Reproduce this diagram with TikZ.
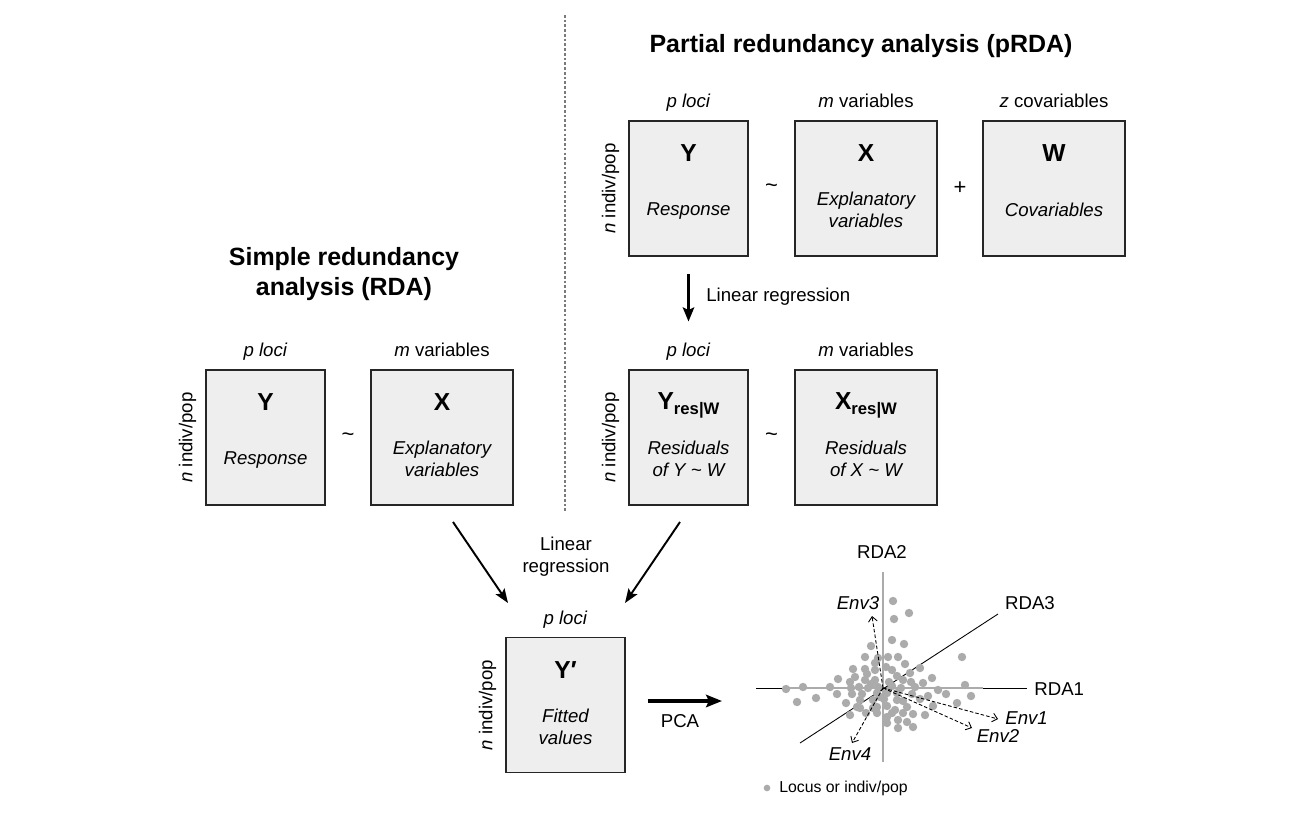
\documentclass[tikz,border=0pt]{standalone}
\usepackage{fontspec}
\setmainfont{Liberation Sans}
\usetikzlibrary{arrows.meta, calc, positioning}

\definecolor{boxgray}{HTML}{EEEEEE}
\definecolor{dotgray}{HTML}{ABABAB}
\definecolor{rulegray}{HTML}{7A7A7A}

\tikzset{
  matbox/.style={draw=black!85, line width=0.6pt, fill=boxgray, minimum width=2.38cm, minimum height=2.7cm, inner sep=0pt},
  widebox/.style={matbox, minimum width=2.84cm},
  letter/.style={font=\fontsize{14}{16}\selectfont\bfseries, inner sep=0pt},
  desc/.style={font=\fontsize{10.6}{12.6}\selectfont\itshape, align=center, inner sep=0pt},
  lbl/.style={font=\fontsize{10.6}{12.6}\selectfont, align=center, inner sep=0pt},
  toplbl/.style={lbl, anchor=base},
  op/.style={font=\fontsize{12.5}{14}\selectfont, inner sep=0pt},
  title/.style={font=\fontsize{14.2}{17.2}\selectfont\bfseries, align=center, inner sep=0pt},
  regarrow/.style={line width=1.1pt, -{Stealth[length=8pt,width=6pt,inset=1.5pt]}},
  bigarrow/.style={line width=1.5pt, -{Stealth[length=8pt,width=6.5pt,inset=1.5pt]}},
  envarrow/.style={line width=0.5pt, dash pattern=on 2pt off 1.2pt, -{Straight Barb[length=2.8pt,width=5pt]}},
}

\begin{document}
\begin{tikzpicture}[x=0.02cm, y=-0.02cm]
  \useasboundingbox (0,0) rectangle (1299,832);

  % divider
  \draw[rulegray, line width=0.8pt, dash pattern=on 1.5pt off 1.2pt] (565,15) -- (565,513);

  % titles
  \node[title] (ptitle) at (861,46) {Partial redundancy analysis (pRDA)};
  \node[title] (stitle) at (344,274) {Simple redundancy\\analysis (RDA)};

  % pRDA, first row
  \node[matbox] (pY) at (688.5,188.5) {};
  \node[widebox] (pX) at (866,188.5) {};
  \node[widebox] (pW) at (1054,188.5) {};
  \node[letter] at ($(pY.north)+(0,33)$) {Y};
  \node[desc] at ($(pY.north)+(0,91)$) {Response};
  \node[letter] at ($(pX.north)+(0,33)$) {X};
  \node[desc] at ($(pX.north)+(0,89)$) {Explanatory\\variables};
  \node[letter] at ($(pW.north)+(0,33)$) {W};
  \node[desc] at ($(pW.north)+(0,89)$) {Covariables};
  \node[toplbl] at ($(pY.north)+(0,-13)$) {\textit{p loci}};
  \node[toplbl] at ($(pX.north)+(0,-13)$) {\textit{m} variables};
  \node[toplbl] at ($(pW.north)+(0,-13)$) {\textit{z} covariables};
  \node[lbl, rotate=90] at ($(pY.west)+(-18,0)$) {\textit{n} indiv/pop};
  \node[op] at ($(pY.east)!0.5!(pX.west)$) {\textasciitilde};
  \node[op] at ($(pX.east)!0.5!(pW.west)$) {+};

  % pRDA, residuals
  \node[matbox] (pYres) at (688.5,437.5) {};
  \node[widebox] (pXres) at (866,437.5) {};
  \node[letter] at ($(pYres.north)+(0,36)$) {Y\raisebox{-2.5pt}{\fontsize{9.5}{10}\selectfont res|W}};
  \node[desc] at ($(pYres.north)+(0,89)$) {Residuals\\of Y \textasciitilde{} W};
  \node[letter] at ($(pXres.north)+(0,36)$) {X\raisebox{-2.5pt}{\fontsize{9.5}{10}\selectfont res|W}};
  \node[desc] at ($(pXres.north)+(0,89)$) {Residuals\\of X \textasciitilde{} W};
  \node[toplbl] at ($(pYres.north)+(0,-13)$) {\textit{p loci}};
  \node[toplbl] at ($(pXres.north)+(0,-13)$) {\textit{m} variables};
  \node[lbl, rotate=90] at ($(pYres.west)+(-18,0)$) {\textit{n} indiv/pop};
  \node[op] at ($(pYres.east)!0.5!(pXres.west)$) {\textasciitilde};

  \draw[bigarrow, shorten <=0.34cm, shorten >=0.96cm] (pY.south) -- (pYres.north);
  \node[lbl, anchor=west] (lreg1) at (706,297) {Linear regression};

  % simple RDA
  \node[matbox] (sY) at (265.5,437.5) {};
  \node[widebox] (sX) at (442,437.5) {};
  \node[letter] at ($(sY.north)+(0,33)$) {Y};
  \node[desc] at ($(sY.north)+(0,91)$) {Response};
  \node[letter] at ($(sX.north)+(0,33)$) {X};
  \node[desc] at ($(sX.north)+(0,89)$) {Explanatory\\variables};
  \node[toplbl] at ($(sY.north)+(0,-13)$) {\textit{p loci}};
  \node[toplbl] at ($(sX.north)+(0,-13)$) {\textit{m} variables};
  \node[lbl, rotate=90] at ($(sY.west)+(-18,0)$) {\textit{n} indiv/pop};
  \node[op] at ($(sY.east)!0.5!(sX.west)$) {\textasciitilde};

  % fitted values
  \node[matbox] (fitY) at (565.5,705) {};
  \node[letter] at ($(fitY.north)+(0,33)$) {Y′};
  \node[desc] at ($(fitY.north)+(0,90)$) {Fitted\\values};
  \node[toplbl] at ($(fitY.north)+(0,-12)$) {\textit{p loci}};
  \node[lbl, rotate=90] at ($(fitY.west)+(-18,0)$) {\textit{n} indiv/pop};

  \coordinate (sfrom) at (453,522);
  \coordinate (sto) at (508,603);
  \coordinate (pfrom) at (680,522);
  \coordinate (pto) at (625,603);
  \draw[regarrow] (sfrom) -- (sto);
  \draw[regarrow] (pfrom) -- (pto);
  \node[lbl] (lreg2) at (566,557) {Linear\\regression};

  \coordinate (pcato) at (722,701);
  \draw[line width=2pt, -{Stealth[length=9pt,width=7pt,inset=1.5pt]}] ($(fitY.east)+(22,-4)$) -- (pcato);
  \node[lbl] (pca) at (680,721) {PCA};

  % ordination plot
  \coordinate (orig) at (883,688);
  \draw[line width=0.5pt] (756,688) -- (1027,688);
  \draw[dotgray, line width=0.8pt] (783,688) -- (983,688);
  \draw[dotgray, line width=0.8pt] (883,572) -- (883,762);
  \draw[line width=0.5pt] (800,743) -- (998,614);
  \foreach \x/\y in {893/601, 909/613, 894/619, 892/640, 904/644, 871/646, 865/657,
      878/658, 888/657, 898/657, 962/657, 875/663, 905/664, 886/667, 920/668, 853/669,
      865/669, 875/670, 892/670, 910/673, 867/674, 897/676, 932/678, 838/679, 855/677,
      850/682, 865/680, 875/680, 889/682, 903/680, 911/682, 923/683, 803/687, 786/689,
      830/687, 851/688, 859/687, 871/684, 878/687, 892/686, 901/688, 915/687, 938/690,
      965/685, 837/694, 852/694, 862/694, 877/693, 887/693, 897/693, 912/694, 928/696,
      946/694, 971/696, 797/702, 816/698, 846/703, 860/700, 873/700, 884/699, 897/700,
      903/701, 920/699, 957/703, 860/708, 873/708, 887/706, 907/707, 895/710, 933/706,
      850/715, 866/713, 877/713, 892/713, 903/713, 913/714, 925/715, 887/717, 898/720,
      907/722, 887/723, 898/728, 913/727, 877/707, 880/697, 868/688, 857/707}
    \fill[dotgray] (\x,\y) circle (2.4pt);

  \coordinate (e1) at (998,719);
  \coordinate (e2) at (972,728);
  \coordinate (e3) at (872,616);
  \coordinate (e4) at (852,743);
  \draw[envarrow] (orig) -- (e1);
  \draw[envarrow] (orig) -- (e2);
  \draw[envarrow] (orig) -- (e3);
  \draw[envarrow] (orig) -- (e4);

  \node[lbl] (rda2) at (882,552) {RDA2};
  \node[lbl] (rda3) at (1030,603) {RDA3};
  \node[lbl, anchor=west] (rda1) at (1034,689) {RDA1};
  \node[desc] (env3) at (858,603) {Env3};
  \node[desc, anchor=west] (env1) at (1005,718) {Env1};
  \node[desc] (env2) at (998,736) {Env2};
  \node[desc] (env4) at (850,754) {Env4};

  % legend
  \fill[dotgray] (767,788) circle (1.9pt);
  \node[anchor=west, inner sep=0pt, font=\fontsize{9}{10}\selectfont] (leg) at (779,788) {Locus or indiv/pop};
\end{tikzpicture}
\end{document}
